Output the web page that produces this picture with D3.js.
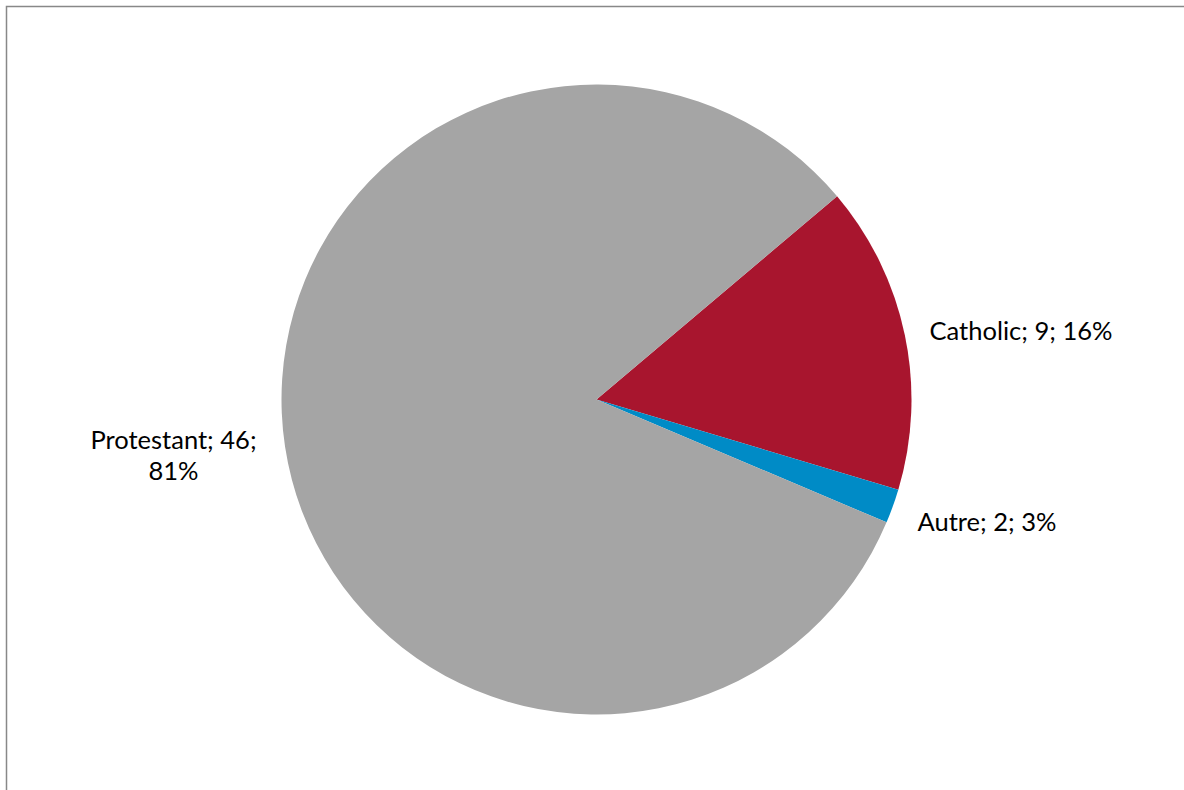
<!DOCTYPE html>
<head>
  <meta charset="UTF-8">
  <title>Pie</title>
  <script src="https://d3js.org/d3.v7.min.js"></script>
  <style>
    body { margin: 0; background: #fff; }
    text { font-family: Lato, "Open Sans", sans-serif; fill: #000; }
  </style>
</head>
<body>
<svg id="mainplot"></svg>
<script>

// slices in drawing order (clockwise)
const categories = ["Catholic", "Autre", "Protestant"];
// slice sizes as measured from the arcs
const sliceValues = [9, 1, 47];
// text printed in the data labels
const labelCounts = ["9", "2", "46"];
const labelPercents = ["16%", "3%", "81%"];
const colors = ["#A8152E", "#008BC6", "#A5A5A5"];

const width = 1184, height = 790;
const cx = 596.5, cy = 399.5, radius = 315;

const svg = d3.select("#mainplot")
    .attr("width", width)
    .attr("height", height);

// chart frame
svg.append("rect")
    .attr("x", 6.5).attr("y", 6.5)
    .attr("width", width).attr("height", height)
    .attr("fill", "none")
    .attr("stroke", "#888")
    .attr("stroke-width", 1.5);

const pie = d3.pie()
    .sort(null)
    .startAngle(49.8 * Math.PI / 180)
    .endAngle(49.8 * Math.PI / 180 + 2 * Math.PI);

const arc = d3.arc().innerRadius(0).outerRadius(radius);

const arcs = pie(sliceValues);

svg.append("g")
    .attr("transform", "translate(" + cx + "," + cy + ")")
  .selectAll("path")
  .data(arcs)
  .enter()
  .append("path")
    .attr("d", arc)
    .attr("fill", (d, i) => colors[i]);

// label placement (Excel best fit style)
const labelPos = [
  { x: 1021, y: 331, lines: 1 },
  { x: 987, y: 522, lines: 1 },
  { x: 173.5, y: 455.5, lines: 2 }
];

const lab = svg.append("g");
categories.forEach((c, i) => {
  const p = labelPos[i];
  const t = lab.append("text")
      .attr("text-anchor", "middle")
      .attr("font-size", 25.5);
  if (p.lines === 1) {
    t.attr("x", p.x).attr("y", p.y).attr("dy", "0.35em")
      .text(c + "; " + labelCounts[i] + "; " + labelPercents[i]);
  } else {
    t.append("tspan").attr("x", p.x).attr("y", p.y - 15.5).attr("dy", "0.35em")
      .text(c + "; " + labelCounts[i] + ";");
    t.append("tspan").attr("x", p.x).attr("y", p.y + 15.5).attr("dy", "0.35em")
      .text(labelPercents[i]);
  }
});

</script>
</body>
